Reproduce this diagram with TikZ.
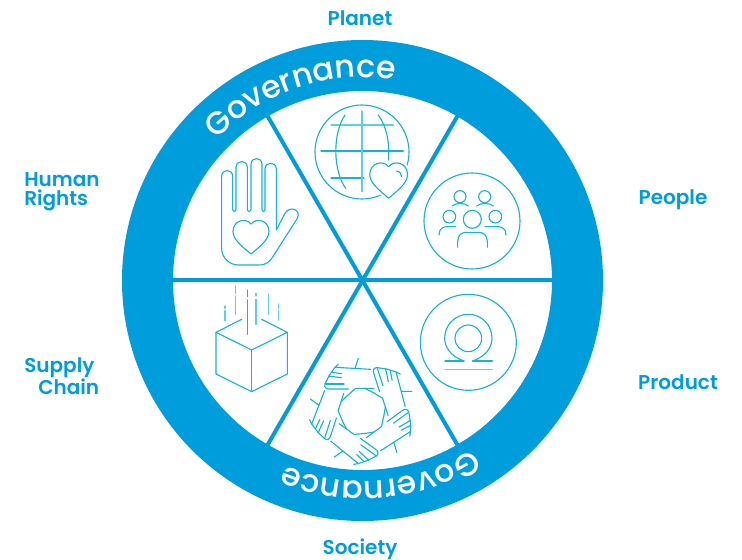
\documentclass[tikz,border=0pt]{standalone}
\usepackage{fontspec}
\setmainfont{Poppins}[BoldFont={Poppins SemiBold}]
\newfontfamily\govfont{Poppins Medium}
\usetikzlibrary{decorations.text}
\definecolor{bandblue}{HTML}{009DDC}
\definecolor{icon}{HTML}{14B4D2}
\definecolor{iconlight}{HTML}{5CCFE0}
\tikzset{
  tag/.style={text=bandblue,font=\fontsize{15}{14.5}\selectfont\bfseries,align=left,inner sep=0pt},
  spoke/.style={draw=bandblue,line width=3pt},
  line/.style={draw=icon,line width=0.85pt,line cap=round,line join=round},
  lightline/.style={draw=iconlight,line width=0.85pt,line cap=round},
  zoomed/.style 2 args={shift={({#1-362.5},{280.5-#2})},x=0.25pt,y=-0.25pt},
  heart/.pic={\path[line,fill=white,preaction={draw=white,line width=4pt}]
    (0,-38) .. controls (-15,-58) and (-54,-50) .. (-54,-15) .. controls (-54,10) and (-20,35) .. (0,52)
    .. controls (20,35) and (54,10) .. (54,-15) .. controls (54,-50) and (15,-58) .. (0,-38) -- cycle;}
}
\begin{document}
\begin{tikzpicture}[x=0.75pt,y=0.75pt]
\useasboundingbox (-362.5,-279.5) rectangle (379.5,280.5);
\coordinate (hub) at (0,0);
% ring and spokes
\fill[bandblue,even odd rule] (hub) circle (240.5) (hub) circle (189.5);
\foreach \ang in {0,60,...,300}
  \draw[spoke] (hub) -- (\ang:190);
\path[decorate,decoration={text along path,text={|\fontsize{23.7}{23.7}\govfont\color{white}|Governance}}]
  (136:203) arc[start angle=136,end angle=70,radius=203];
\path[decorate,decoration={text along path,text={|\fontsize{23.7}{23.7}\govfont\color{white}|Governance}}]
  (-57:201) arc[start angle=-57,end angle=-125,radius=201];
% labels
\node[tag] (planet) at (-2.5,262.5) {Planet};
\node[tag] (people) at (310.5,81) {People};
\node[tag] (product) at (315.5,-101.5) {Product};
\node[tag] (society) at (-2.5,-268.5) {Society};
\node[tag,anchor=west] (rights) at (-338.5,88.5) {Human\\Rights};
\node[tag,anchor=west] (supply) at (-338.5,-95.5) {Supply\\\hspace*{10.5pt}Chain};
% hand
\begin{scope}[zoomed={170}{40}]
\draw[line] (319,570) -- (319,387) .. controls (319,364) and (285,364) .. (285,387) -- (285,508)
  .. controls (285,516) and (276,516) .. (276,508) -- (276,373) .. controls (276,350) and (243,350) .. (243,373)
  -- (243,508) .. controls (243,516) and (232,516) .. (232,508) -- (232,382) .. controls (232,359) and (198,359) .. (198,382)
  -- (198,508) .. controls (198,516) and (188,516) .. (188,508) -- (188,409) .. controls (188,386) and (155,386) .. (155,409)
  -- (155,625) .. controls (155,655) and (180,675) .. (205,675) -- (265,675) .. controls (290,675) and (300,665) .. (310,648)
  -- (382,535) .. controls (395,510) and (360,495) .. (345,520) -- cycle;
\pic at (243,590) {heart};
\end{scope}
% globe
\begin{scope}[zoomed={360}{40}]
\draw[line] (6,336) circle (141);
\draw[lightline] (-87,255) -- (100,255);
\draw[line] (-117,333) -- (130,333);
\draw[line] (-87,414) -- (12,414);
\draw[lightline] (6,213) -- (6,455);
\draw[line] (-45,225) .. controls (-82,280) and (-82,390) .. (-43,445);
\draw[line] (55,225) .. controls (80,260) and (90,310) .. (85,360);
\pic[scale=1.05] at (86,420) {heart};
\draw[line] (110,393) .. controls (120,395) and (125,402) .. (125,410);
\end{scope}
% people
\begin{scope}[zoomed={360}{40}]
\draw[line] (336,543) circle (144);
\foreach \px/\py/\pr in {300/470/18,374/470/18,268/530/19,406/530/19,337/538/27}
  \draw[line] (\px,\py) circle (\pr);
\draw[line] (277,498) .. controls (285,488) and (315,488) .. (325,498);
\draw[line] (350,498) .. controls (360,488) and (390,488) .. (400,498);
\draw[line] (237,585) .. controls (237,565) and (250,560) .. (262,560) -- (287,560);
\draw[line] (438,585) .. controls (438,565) and (425,560) .. (413,560) -- (375,560);
\draw[line] (293,622) -- (293,605) .. controls (293,585) and (305,577) .. (320,577) -- (355,577)
  .. controls (370,577) and (382,585) .. (382,605) -- (382,622);
\end{scope}
% box
\begin{scope}[zoomed={170}{280}]
\draw[line] (215,118) -- (138,157) -- (245,210) -- (352,157) -- (275,118);
\draw[line] (138,157) -- (138,282) -- (245,335) -- (352,282) -- (352,157);
\draw[line] (245,210) -- (245,335);
\draw[lightline] (165,78) -- (165,85) (165,92) -- (165,122);
\draw[lightline] (197,18) -- (197,40) (197,48) -- (197,103);
\draw[line] (232,30) -- (232,50) (232,60) -- (232,163);
\draw[lightline] (258,40) -- (258,48) (258,58) -- (258,133);
\draw[lightline] (295,42) -- (295,103);
\draw[lightline] (325,72) -- (325,85) (325,92) -- (325,120);
\end{scope}
% product
\begin{scope}[zoomed={300}{280}]
\draw[line] (505,187) circle (144);
\draw[line] (505,175) circle (40);
\draw[line] (492,243) .. controls (450,228) and (434,200) .. (434,175) .. controls (434,135) and (465,103) .. (505,103)
  .. controls (545,103) and (576,135) .. (576,175) .. controls (576,200) and (560,228) .. (518,243);
\draw[line] (435,243) -- (492,243) (518,243) -- (577,243);
\draw[lightline] (435,268) -- (577,268);
\end{scope}
% linked arms
\begin{scope}[zoomed={300}{280}]
\foreach \ang in {0,72,144,216,288} {
  \begin{scope}[rotate around={\ang:(187,395)},line width=1pt]
  \draw[line] (175,235) -- (165,265);
  \draw[line] (115,252) -- (105,262) -- (160,265) -- (212,268);
  \draw[line] (105,262) -- (85,290) .. controls (95,288) and (110,292) .. (125,293);
  \draw[line] (85,292) -- (75,312) .. controls (72,322) and (78,327) .. (88,327) -- (145,327);
  \draw[line] (95,277) -- (125,281);
  \draw[line] (78,312) -- (132,312);
  \draw[line] (142,347) -- (167,325) -- (222,325);
  \draw[line] (195,325) -- (218,337);
  \end{scope}
}
\end{scope}
\end{tikzpicture}
\end{document}
